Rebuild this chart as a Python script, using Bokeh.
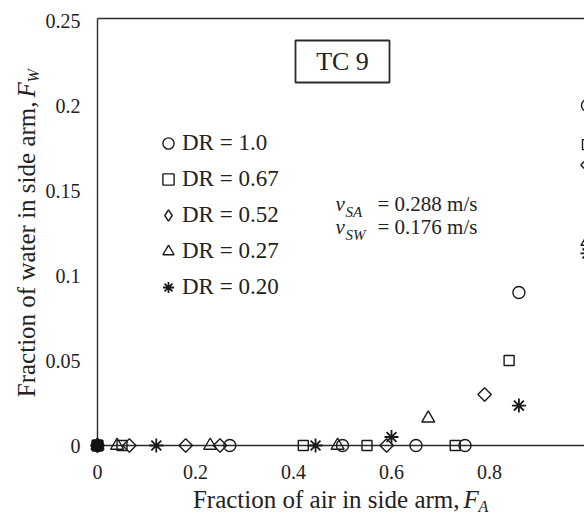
import numpy as np
from bokeh.plotting import figure
from bokeh.models import Range1d, Label, Legend, LegendItem, BoxAnnotation
from bokeh.core.properties import value
from bokeh.embed import file_html
from bokeh.resources import INLINE

# ---------------- data ----------------
dr100_x = [0.0, 0.27, 0.50, 0.65, 0.75, 0.86, 1.0]
dr100_y = [0.0, 0.0, 0.0, 0.0, 0.0, 0.090, 0.200]

dr067_x = [0.0, 0.05, 0.42, 0.55, 0.73, 0.84, 1.0]
dr067_y = [0.0, 0.0, 0.0, 0.0, 0.0, 0.050, 0.177]

dr052_x = [0.0, 0.065, 0.18, 0.25, 0.59, 0.79, 1.0]
dr052_y = [0.0, 0.0, 0.0, 0.0, 0.0, 0.030, 0.165]

dr027_x = [0.0, 0.04, 0.23, 0.49, 0.675, 1.0]
dr027_y = [0.0, 0.0, 0.0, 0.0, 0.016, 0.120]

dr020_x = [0.0, 0.12, 0.445, 0.60, 0.86, 1.0]
dr020_y = [0.0, 0.0, 0.0, 0.005, 0.0235, 0.113]

origin_x = [0.0]
origin_y = [0.0]

series_labels = ["DR = 1.0", "DR = 0.67", "DR = 0.52", "DR = 0.27", "DR = 0.20"]

x_ticks = [0.0, 0.2, 0.4, 0.6, 0.8]
x_tick_labels = ["0", "0.2", "0.4", "0.6", "0.8"]
y_ticks = [0.0, 0.05, 0.1, 0.15, 0.2, 0.25]
y_tick_labels = ["0", "0.05", "0.1", "0.15", "0.2", "0.25"]

# ---------------- layout helpers (pixel -> data) ----------------
W, H = 584, 515
X0_PX, PX_PER_X = 97.0, 490.0
Y0_PX, PX_PER_Y = 445.0, 1700.0


def dx(px):
    return (px - X0_PX) / PX_PER_X


def dy(py):
    return (Y0_PX - py) / PX_PER_Y


SERIF = "Liberation Serif"
INK = "#222222"
LINE = "#2a2a2a"

p = figure(width=W, height=H,
           x_range=Range1d(dx(0), dx(W)), y_range=Range1d(dy(H), dy(0)),
           x_axis_location=None, y_axis_location=None,
           output_backend="svg", toolbar_location=None,
           min_border_left=0, min_border_right=0, min_border_top=0, min_border_bottom=0)
p.xgrid.visible = False
p.ygrid.visible = False
p.outline_line_color = None
p.background_fill_color = "white"
p.border_fill_color = "white"

# axis frame lines (x axis at y=0, y axis at x=0, top border)
x_axis_max = 1.0
y_axis_max = dy(18)
p.segment(x0=[0.0, 0.0, 0.0], y0=[0.0, 0.0, y_axis_max],
          x1=[x_axis_max, 0.0, x_axis_max], y1=[0.0, y_axis_max, y_axis_max],
          line_color=LINE, line_width=1.4)

# tick labels drawn through the data scales
p.text(x=x_ticks, y=[dy(471)] * len(x_ticks), text=x_tick_labels,
       text_align="center", text_baseline="middle", text_font=value(SERIF),
       text_font_size="20px", text_color=INK)
p.text(x=[dx(80)] * len(y_ticks), y=y_ticks, text=y_tick_labels,
       text_align="right", text_baseline="middle", text_font=value(SERIF),
       text_font_size="20px", text_color=INK)

common = dict(fill_color=None, line_color="#1a1a1a", line_width=1.4)
r1 = p.scatter(dr100_x, dr100_y, marker="circle", size=12, **common)
r2 = p.scatter(dr067_x, dr067_y, marker="square", size=10, **common)
r3 = p.scatter(dr052_x, dr052_y, marker="square", angle=np.pi / 4, size=9.5, **common)
r4 = p.scatter(dr027_x, dr027_y, marker="triangle", size=13, **common)
r5 = p.scatter(dr020_x, dr020_y, marker="asterisk", size=14, line_color="#1a1a1a", line_width=1.8)
p.scatter(origin_x, origin_y, marker="square", size=11, fill_color="#111111", line_color="#111111")

# legend swatch for the diamond series (legend swatches are drawn unrotated),
# a hidden copy of the same series drawn with the diamond marker
r3_key = p.scatter(dr052_x, dr052_y, marker="diamond", size=14, visible=False, **common)

legend = Legend(items=[LegendItem(label=l, renderers=[r]) for l, r in zip(series_labels, [r1, r2, r3_key, r4, r5])],
                location=(154, 214), padding=0, margin=0, spacing=8,
                glyph_width=28, glyph_height=28, label_standoff=0,
                label_text_font=SERIF, label_text_font_size="23px", label_text_color=INK,
                border_line_color=None, background_fill_alpha=0)
p.add_layout(legend)

# TC 9 box
p.add_layout(BoxAnnotation(left=dx(295), right=dx(389), top=dy(40), bottom=dy(82),
                           fill_color="white", fill_alpha=1, line_color=LINE, line_alpha=1, line_width=1.8))
p.add_layout(Label(x=dx(342), y=dy(61), text="TC 9", text_align="center", text_baseline="middle",
                   text_font=SERIF, text_font_size="26px", text_color=INK))

# velocity annotation
for mid, sub, rest in ((203, "SA", "= 0.288 m/s"), (226, "SW", "= 0.176 m/s")):
    p.add_layout(Label(x=dx(335), y=dy(mid), text="v", text_font=SERIF, text_font_style="italic",
                       text_font_size="21px", text_color=INK, text_baseline="middle"))
    p.add_layout(Label(x=dx(345), y=dy(mid + 8), text=sub, text_font=SERIF, text_font_style="italic",
                       text_font_size="15px", text_color=INK, text_baseline="middle"))
    p.add_layout(Label(x=dx(377), y=dy(mid), text=rest, text_font=SERIF,
                       text_font_size="21px", text_color=INK, text_baseline="middle"))

# x axis title
p.add_layout(Label(x=dx(459), y=dy(499), text="Fraction of air in side arm,", text_align="right",
                   text_baseline="middle", text_font=SERIF, text_font_size="25px", text_color=INK))
p.add_layout(Label(x=dx(463), y=dy(499), text="F", text_align="left", text_baseline="middle",
                   text_font=SERIF, text_font_style="italic", text_font_size="25px", text_color=INK))
p.add_layout(Label(x=dx(478), y=dy(506), text="A", text_align="left", text_baseline="middle",
                   text_font=SERIF, text_font_style="italic", text_font_size="16px", text_color=INK))

# y axis title (rotated)
ang = np.pi / 2
p.add_layout(Label(x=dx(26), y=dy(101), text="Fraction of water in side arm,", angle=ang, text_align="right",
                   text_baseline="middle", text_font=SERIF, text_font_size="25px", text_color=INK))
p.add_layout(Label(x=dx(26), y=dy(97), text="F", angle=ang, text_align="left", text_baseline="middle",
                   text_font=SERIF, text_font_style="italic", text_font_size="25px", text_color=INK))
p.add_layout(Label(x=dx(33), y=dy(82), text="W", angle=ang, text_align="left", text_baseline="middle",
                   text_font=SERIF, text_font_style="italic", text_font_size="16px", text_color=INK))

open("out.html", "w").write(file_html(p, INLINE))
